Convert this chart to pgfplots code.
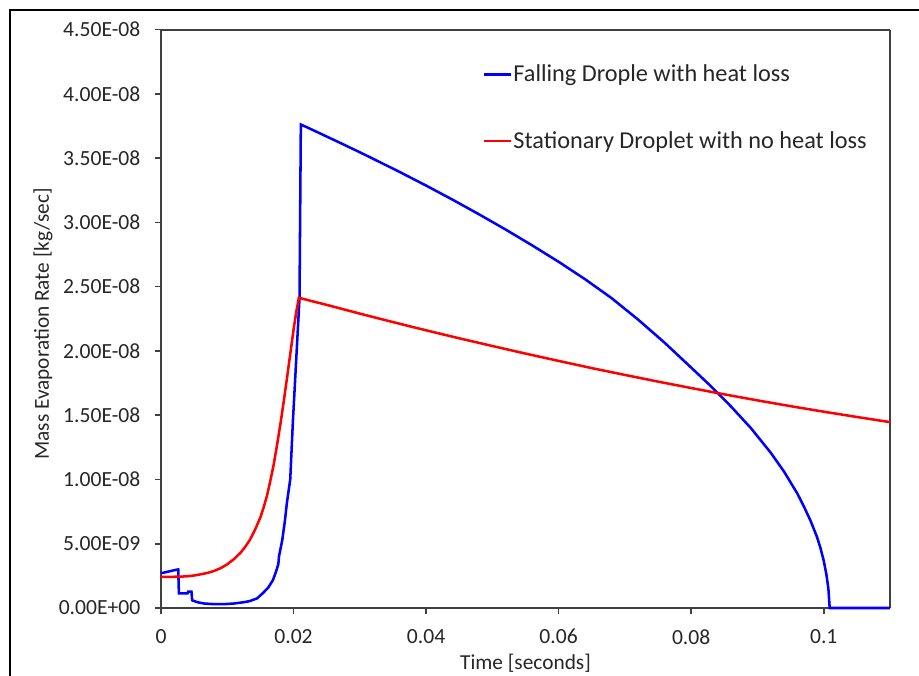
\documentclass[border=0pt]{standalone}
\usepackage{pgfplots}
\pgfplotsset{compat=1.18}
\usepackage{fontspec}
\setmainfont{Carlito}
\begin{document}
\begin{tikzpicture}
\useasboundingbox (0pt,0pt) rectangle (689.25pt,506.25pt);
\draw[line width=1.7pt, black] (7.5pt,-20pt) -- (7.5pt,498.75pt) -- (700pt,498.75pt);
\begin{axis}[
  at={(120.75pt,50.25pt)}, anchor=south west,
  scale only axis, width=546.75pt, height=433.875pt,
  xmin=0, xmax=0.11, ymin=0, ymax=4.5,
  separate axis lines,
  axis line style={draw=black!75, line width=1.5pt},
  tick align=outside, major tick length=4.5pt,
  tick style={black!75, line width=1.2pt},
  xtick pos=bottom, ytick pos=left,
  xtick={0,0.02,0.04,0.06,0.08,0.1},
  xticklabels={0,0.02,0.04,0.06,0.08,0.1},
  ytick={0,0.5,1,1.5,2,2.5,3,3.5,4,4.5},
  yticklabels={0.00E+00,5.00E-09,1.00E-08,1.50E-08,2.00E-08,2.50E-08,3.00E-08,3.50E-08,4.00E-08,4.50E-08},
  ticklabel style={font=\fontsize{16.2}{19}\selectfont, text=black!85},
  xticklabel style={yshift=-8pt},
  yticklabel style={xshift=-7.5pt},
  xlabel={Time [seconds]}, ylabel={Mass Evaporation Rate [kg/sec]},
  every axis x label/.style={at={(axis description cs:0.5,-0.0951)}, anchor=center, font=\fontsize{16}{19}\selectfont, text=black!85},
  every axis y label/.style={at={(axis description cs:-0.1619,0.491)}, rotate=90, anchor=center, font=\fontsize{16}{19}\selectfont, text=black!85},
  legend style={at={(axis description cs:0.4403,0.9420)}, anchor=north west, draw=none, fill=none,
    font=\fontsize{18.2}{21}\selectfont, row sep=33.5pt, inner sep=0pt, nodes={inner sep=1.2pt, text=black!85}},
  legend cell align=left,
  legend image code/.code={\draw[#1, line width=1.9pt] (0pt,0pt) -- (20.25pt,0pt);},
  clip=false,
]
\addplot[blue, line width=1.9pt] table {
0 0.270
0.0010 0.282
0.0020 0.294
0.0026 0.300
0.0027 0.114
0.0040 0.114
0.0041 0.127
0.0046 0.127
0.0047 0.060
0.0055 0.045
0.0065 0.035
0.0080 0.030
0.0095 0.030
0.0110 0.035
0.0125 0.045
0.0134 0.054
0.0145 0.075
0.0154 0.117
0.0162 0.160
0.0169 0.218
0.0174 0.290
0.0177 0.340
0.0178 0.400
0.0183 0.530
0.0187 0.680
0.0190 0.820
0.0195 1.000
0.0199 1.450
0.0204 1.930
0.0209 2.410
0.0211 3.761
0.023 3.716
0.027 3.619
0.030 3.545
0.033 3.469
0.036 3.392
0.040 3.286
0.044 3.176
0.048 3.062
0.052 2.944
0.056 2.821
0.060 2.693
0.064 2.557
0.068 2.410
0.072 2.243
0.076 2.063
0.080 1.870
0.083 1.724
0.086 1.568
0.089 1.400
0.092 1.208
0.094 1.062
0.096 0.892
0.097 0.790
0.098 0.680
0.099 0.550
0.0995 0.468
0.1000 0.367
0.1004 0.262
0.1007 0.150
0.1009 0.000
0.1100 0.000
};
\addlegendentry{Falling Drople with heat loss}
\addplot[red, line width=1.9pt] table {
0 0.243
0.002 0.243
0.003 0.244
0.004 0.247
0.005 0.253
0.006 0.262
0.007 0.273
0.008 0.288
0.009 0.310
0.010 0.340
0.011 0.380
0.012 0.430
0.0127 0.475
0.0134 0.529
0.0142 0.610
0.015 0.705
0.0155 0.785
0.016 0.875
0.0165 0.990
0.017 1.115
0.0175 1.265
0.018 1.425
0.0185 1.600
0.019 1.785
0.0195 1.975
0.020 2.165
0.0204 2.300
0.0208 2.413
0.025 2.358
0.030 2.290
0.035 2.224
0.040 2.160
0.045 2.098
0.050 2.038
0.055 1.979
0.060 1.922
0.065 1.866
0.070 1.813
0.075 1.761
0.080 1.711
0.085 1.662
0.090 1.615
0.095 1.570
0.100 1.527
0.105 1.486
0.110 1.446
};
\addlegendentry{Stationary Droplet with no heat loss}
\end{axis}
\end{tikzpicture}
\end{document}
